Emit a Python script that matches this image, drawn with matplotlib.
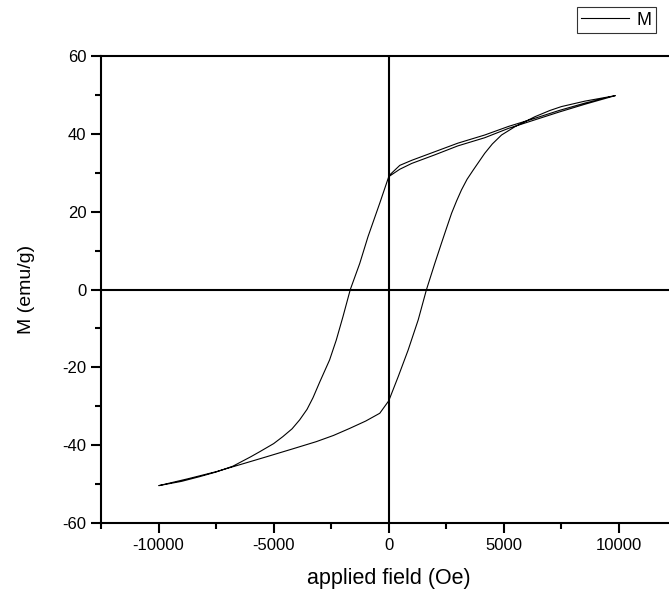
import matplotlib.pyplot as plt
from matplotlib.ticker import MultipleLocator

plt.rcParams['font.family'] = ['Liberation Sans', 'DejaVu Sans']
plt.rcParams['axes.unicode_minus'] = False

# first sweep 0 -> +10 kOe
h_start = [0, 480, 1000, 2000, 3000, 4170, 5200, 6350, 7400, 8520, 9830]
m_start = [29.2, 31.9, 33.2, 35.4, 37.6, 39.7, 41.9, 44.0, 46.0, 47.9, 49.8]

# descending branch +10 kOe -> -10 kOe
h_down = [9830, 8520, 7400, 6350, 5200, 4170, 3000, 2000, 1000, 480, 0,
          -390, -900, -1260, -1670, -1990, -2280, -2570, -3000, -3290,
          -3550, -3870, -4200, -4600, -5000, -5610, -6000, -6770, -7500,
          -8220, -9000, -9990]
m_down = [49.8, 47.6, 45.6, 43.6, 41.4, 39.0, 36.9, 34.6, 32.4, 30.9, 29.0,
          22.2, 13.6, 6.7, 0.0, -7.0, -13.0, -18.1, -23.8, -27.8,
          -30.8, -33.5, -35.8, -37.8, -39.6, -41.7, -43.0, -45.4, -46.9,
          -48.1, -49.3, -50.4]

# ascending branch -10 kOe -> +10 kOe
h_up = [-9990, -8700, -7490, -6400, -5320, -4200, -3150, -2400, -1700,
        -1000, -390, 0, 410, 840, 1280, 1640, 2000, 2290, 2500, 2730, 2950,
        3160, 3400, 3670, 4170, 4500, 4900, 5500, 6350, 7000, 7500, 8520,
        9830]
m_up = [-50.4, -48.6, -46.8, -44.9, -43.0, -41.0, -39.1, -37.5, -35.7,
        -33.8, -31.8, -28.6, -22.4, -15.6, -7.8, 0.0, 6.7, 11.9, 15.6, 19.6,
        22.8, 25.6, 28.3, 30.7, 35.0, 37.4, 39.7, 41.9, 44.4, 46.0, 47.0,
        48.4, 49.8]

h = h_start + h_down[1:] + h_up[1:]
m = m_start + m_down[1:] + m_up[1:]

fig = plt.figure(figsize=(6.69, 5.97), dpi=100)
# the frame runs past the right edge of the picture, as in the original
ax = fig.add_axes([101 / 669, 74 / 597, 575.5 / 669, 467 / 597])

ax.plot(h, m, color='black', linewidth=0.8, label='M')
ax.axhline(0, color='black', linewidth=1.5, zorder=1)
ax.axvline(0, color='black', linewidth=1.5, zorder=1)

ax.set_xlim(-12500, 12500)
ax.set_ylim(-60, 60)
ax.xaxis.set_major_locator(MultipleLocator(5000))
ax.xaxis.set_minor_locator(MultipleLocator(2500))
ax.yaxis.set_major_locator(MultipleLocator(20))
ax.yaxis.set_minor_locator(MultipleLocator(10))

for side in ['left', 'bottom', 'top', 'right']:
    ax.spines[side].set_linewidth(1.5)
ax.tick_params(which='major', direction='out', length=7, width=1.5,
               labelsize=12, top=False, right=False)
ax.tick_params(which='minor', direction='out', length=4, width=1.5,
               top=False, right=False)

ax.set_xlabel('applied field (Oe)', fontsize=15.5, labelpad=11)
ax.set_ylabel('M (emu/g)', fontsize=14, labelpad=20)

leg = fig.legend(loc='upper right', bbox_to_anchor=(656 / 669, 1 - 7 / 597),
                 fontsize=13, frameon=True, fancybox=False, shadow=False,
                 borderaxespad=0, handlelength=2.65, handletextpad=0.4,
                 borderpad=0.25)
leg.get_frame().set_edgecolor('black')
leg.get_frame().set_linewidth(0.8)

fig.savefig('out.png', dpi=100)
